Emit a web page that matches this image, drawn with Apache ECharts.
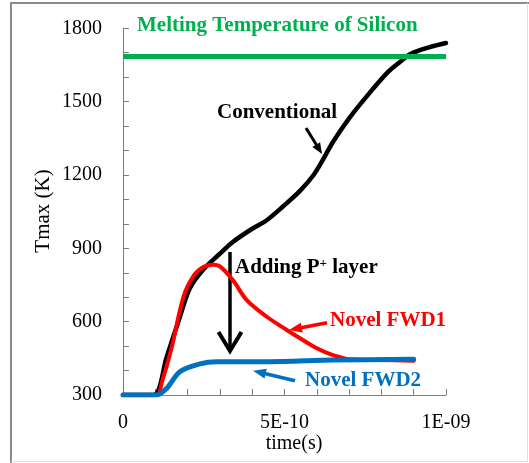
<!DOCTYPE html>
<html>
<head>
<meta charset="utf-8">
<script src="https://cdn.jsdelivr.net/npm/echarts@6/dist/echarts.min.js"></script>
<style>html,body{margin:0;padding:0;background:#fff;}#c{width:529px;height:463px;}</style>
</head>
<body>
<div id="c"></div>
<script>
// time in seconds, Tmax in K
const conventional = [[0,300],[0.95e-10,300],[1.35e-10,455],[1.75e-10,615],[2.07e-10,737],[2.5e-10,815],[3.0e-10,878],[3.4e-10,926],[4.0e-10,980],[4.45e-10,1015],[4.96e-10,1072],[5.48e-10,1135],[5.9e-10,1200],[6.2e-10,1265],[6.5e-10,1335],[7.03e-10,1437],[7.7e-10,1546],[8.2e-10,1621],[8.6e-10,1665],[8.9e-10,1695],[9.5e-10,1723],[10e-10,1740]];
const novelFWD1 = [[0,300],[1.05e-10,300],[1.2e-10,350],[1.5e-10,490],[1.87e-10,701],[2.2e-10,790],[2.5e-10,825],[2.79e-10,833],[3.0e-10,826],[3.4e-10,770],[3.83e-10,688],[4.45e-10,620],[5.07e-10,566],[5.48e-10,532],[6.0e-10,491],[6.5e-10,463],[7.03e-10,446],[8.0e-10,443],[9.0e-10,440]];
const novelFWD2 = [[0,300],[1.04e-10,300],[1.35e-10,327],[1.76e-10,395],[2.38e-10,427],[2.9e-10,436],[4.45e-10,436],[6.5e-10,443],[9.0e-10,446]];
const meltingTemp = 1687;
const xTickLabels = ['0','5E-10','1E-09'];   // at 0, 5e-10, 1e-9
const yTickLabels = ['300','600','900','1200','1500','1800'];

const chart = echarts.init(document.getElementById('c'), null, {renderer:'canvas'});
const FONT = '"Liberation Serif","Times New Roman",serif';
const axisGray = '#7f7f7f';

function arrow(x1,y1,x2,y2,color,w,hl,hw){
  const dx=x2-x1, dy=y2-y1, L=Math.sqrt(dx*dx+dy*dy), ux=dx/L, uy=dy/L;
  const bx=x2-ux*hl, by=y2-uy*hl;
  return [
    {type:'line', shape:{x1:x1,y1:y1,x2:bx+ux*2,y2:by+uy*2}, style:{stroke:color,lineWidth:w}},
    {type:'polygon', shape:{points:[[x2,y2],[bx-uy*hw/2,by+ux*hw/2],[bx+uy*hw/2,by-ux*hw/2]]}, style:{fill:color}}
  ];
}
function txt(x,y,s,color,extra){
  return Object.assign({type:'text', x:x, y:y, style:{text:s, fill:color, font:'bold 21px '+FONT, textAlign:'left', textVerticalAlign:'middle'}}, extra||{});
}

const graphics = [
  {type:'line', shape:{x1:10,y1:3,x2:529,y2:3}, style:{stroke:'#8a8a8a',lineWidth:2}},
  {type:'line', shape:{x1:11,y1:3,x2:11,y2:463}, style:{stroke:'#8a8a8a',lineWidth:2}},
  {type:'line', shape:{x1:527.5,y1:3,x2:527.5,y2:461.5}, style:{stroke:'#dddddd',lineWidth:1}},
  {type:'line', shape:{x1:11,y1:461.5,x2:528,y2:461.5}, style:{stroke:'#dddddd',lineWidth:1}},
  txt(137,26,'Melting Temperature of Silicon','#00B050'),
  txt(217,113,'Conventional','#000'),
  {type:'text', x:235, y:268, style:{text:'{a|Adding P}{s|+}{a| layer}', textAlign:'left', textVerticalAlign:'middle',
    rich:{a:{font:'bold 21px '+FONT, fill:'#000'}, s:{font:'bold 13px '+FONT, fill:'#000', verticalAlign:'top', padding:[0,0,8,0]}}}},
  txt(330,321,'Novel FWD1','#FF0000'),
  txt(305,380.5,'Novel FWD2','#0070C0'),
  {type:'text', x:43, y:211, rotation:Math.PI/2, style:{text:'Tmax (K)', fill:'#000', font:'21px '+FONT, textAlign:'center', textVerticalAlign:'middle'}},
  {type:'text', x:294, y:444, style:{text:'time(s)', fill:'#000', font:'20px '+FONT, textAlign:'center', textVerticalAlign:'middle'}},
  {type:'line', shape:{x1:230,y1:252,x2:230,y2:350}, style:{stroke:'#000',lineWidth:3.5}},
  {type:'polyline', shape:{points:[[218.5,332],[230,351],[241.5,332]]}, style:{stroke:'#000',lineWidth:4,fill:null}}
].concat(arrow(306,128,322,154,'#000',3,11,9))
 .concat(arrow(327,322.7,289,330,'#FF0000',3.5,13,10))
 .concat(arrow(295,380.7,253,370.7,'#0070C0',3.5,13,10));

chart.setOption({
  animation:false,
  grid:{left:123, right:83, top:28.3, bottom:68, containLabel:false},
  xAxis:{type:'value', min:0, max:1e-9, interval:1e-10,
    axisLine:{lineStyle:{color:axisGray,width:1}},
    axisTick:{inside:true,length:6,lineStyle:{color:axisGray}},
    splitLine:{show:false},
    axisLabel:{color:'#000', fontFamily:FONT, fontSize:20, margin:18,
      formatter:function(v){const k=Math.round(v/1e-10); return (k%5===0)? xTickLabels[k/5] : '';}}
  },
  yAxis:{type:'value', min:300, max:1800, interval:100,
    axisLine:{show:true,lineStyle:{color:axisGray,width:1}},
    axisTick:{show:true,inside:true,length:6,lineStyle:{color:axisGray}},
    splitLine:{show:false},
    axisLabel:{color:'#000', fontFamily:FONT, fontSize:20, margin:21,
      formatter:function(v){const r=Math.round(v); return (r%300===0)? yTickLabels[(r-300)/300] : '';}}
  },
  series:[
    {name:'Conventional', type:'line', data:conventional, smooth:0.3, showSymbol:false, z:2,
     lineStyle:{color:'#000',width:4.5,cap:'round'},
     markLine:{silent:true, symbol:['none','none'], label:{show:false},
       lineStyle:{color:'#00B050',width:5,type:'solid'}, data:[{yAxis:meltingTemp}]}},
    {name:'Novel FWD1', type:'line', data:novelFWD1, smooth:0.3, showSymbol:false, z:3,
     lineStyle:{color:'#FF0000',width:4,cap:'round'}},
    {name:'Novel FWD2', type:'line', data:novelFWD2, smooth:0.3, showSymbol:false, z:4,
     lineStyle:{color:'#0070C0',width:5,cap:'round'}}
  ],
  graphic:graphics
});
</script>
</body>
</html>
